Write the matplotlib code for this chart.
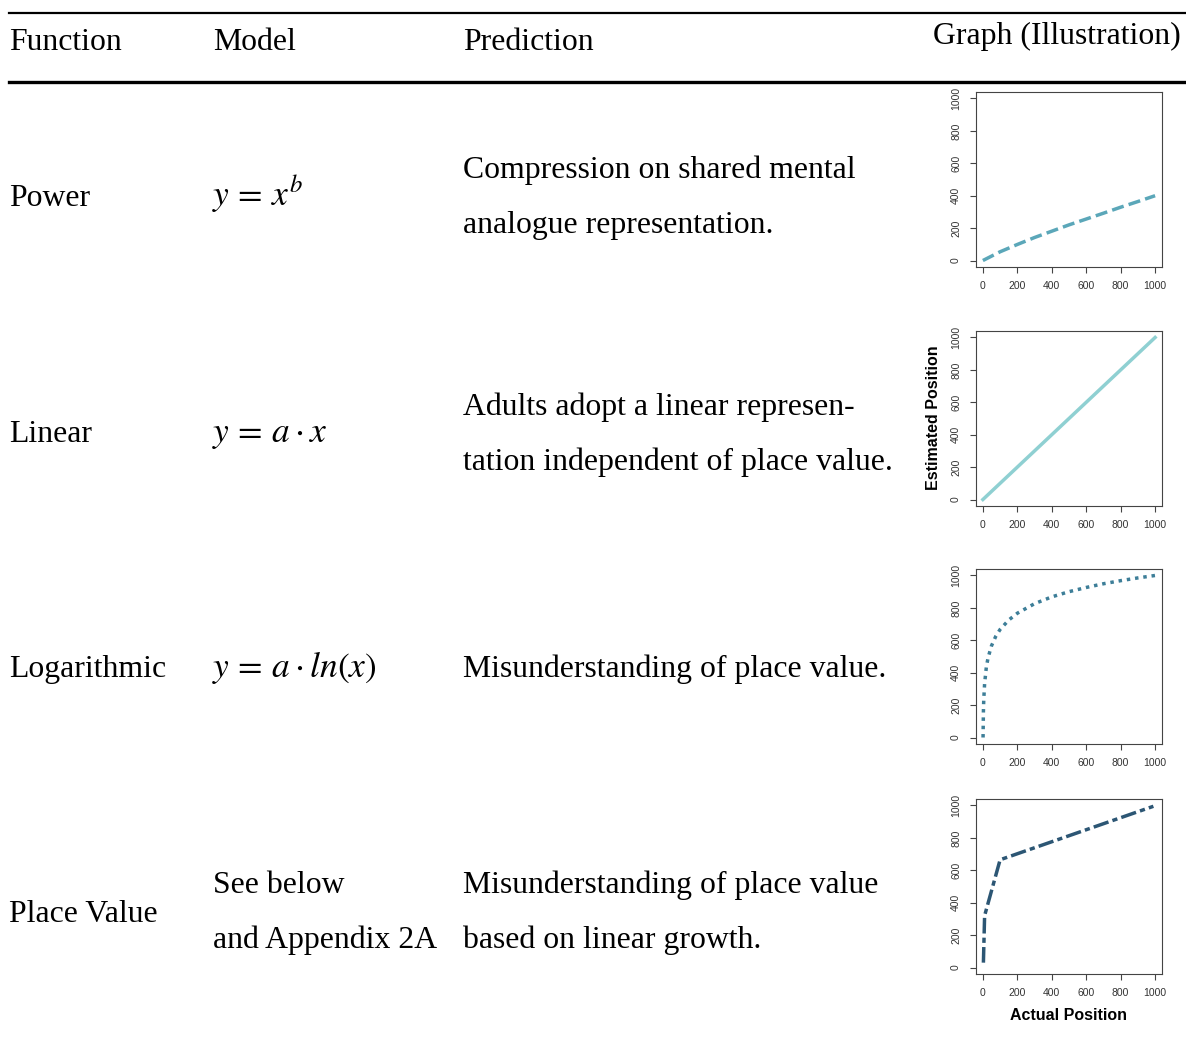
import matplotlib.pyplot as plt

plt.rcParams['mathtext.fontset'] = 'stix'

W, H = 1186, 1041

# table contents
header = ["Function", "Model", "Prediction"]
graph_header = "Graph (Illustration)"
functions = ["Power", "Linear", "Logarithmic", "Place Value"]
models = [r"$y\,=\,x^{b}$", r"$y\,=\,a\cdot x$", r"$y\,=\,a\cdot ln(x)$", "See below\nand Appendix 2A"]
predictions = ["Compression on shared mental\nanalogue representation.",
               "Adults adopt a linear represen-\ntation independent of place value.",
               "Misunderstanding of place value.",
               "Misunderstanding of place value\nbased on linear growth."]

# illustration curves
power_x = [0, 100, 200, 300, 400, 500, 600, 700, 800, 900, 1000]
power_y = [0, 54, 99, 142, 181, 220, 256, 292, 329, 364, 400]
linear_x = [0, 1000]
linear_y = [0, 1000]
log_x = [1, 3, 5, 10, 20, 30, 50, 75, 100, 150, 200, 300, 400, 500, 600, 700, 800, 900, 1000]
log_y = [0, 159, 233, 333, 434, 492, 566, 625, 667, 725, 767, 826, 868, 900, 926, 949, 968, 985, 1000]
place_x = [3, 10, 100, 990]
place_y = [30, 320, 665, 995]

ticks = [0, 200, 400, 600, 800, 1000]
colors = ["#5ba7b9", "#8fd0d2", "#3d7e98", "#2c5674"]


def fx(x):
    return x / W


def fy(y):
    return 1 - y / H


fig = plt.figure(figsize=(W / 100, H / 100), dpi=100)

serif = "Liberation Serif"
fs = 22.9

# rules
fig.add_artist(plt.Line2D([fx(9), fx(1186)], [fy(13), fy(13)], color="black", lw=1.6))
fig.add_artist(plt.Line2D([fx(9), fx(1186)], [fy(82), fy(82)], color="black", lw=2.4))

# header
for txt, x in zip(header, [9, 213, 463]):
    fig.text(fx(x), fy(50), txt, family=serif, fontsize=fs, va="baseline")
fig.text(fx(1181), fy(44), graph_header, family=serif, fontsize=fs, va="baseline", ha="right")

# rows
row_base = [206, 442, 677, 922]
pred_base = [[178, 233], [415, 470], [677], [893, 948]]
for i in range(4):
    fig.text(fx(9), fy(row_base[i]), functions[i], family=serif, fontsize=fs, va="baseline")
    if models[i].startswith("$"):
        fig.text(fx(212), fy(row_base[i]), models[i], fontsize=25.5, va="baseline")
    else:
        for line, b in zip(models[i].split("\n"), pred_base[i]):
            fig.text(fx(213), fy(b), line, family=serif, fontsize=fs, va="baseline")
    for line, b in zip(predictions[i].split("\n"), pred_base[i]):
        fig.text(fx(463), fy(b), line, family=serif, fontsize=fs, va="baseline")

# small graphs
tops = [92, 331, 569, 799]
curves = [(power_x, power_y, (0, (3.5, 1.5))),
          (linear_x, linear_y, "-"),
          (log_x, log_y, (0, (1.0, 1.4))),
          (place_x, place_y, (0, (4.5, 1.2, 1.5, 1.2)))]
left, right, box_h = 976, 1162, 175
for i, (xs, ys, ls) in enumerate(curves):
    ax = fig.add_axes([fx(left), fy(tops[i] + box_h), (right - left) / W, box_h / H])
    ax.plot(xs, ys, color=colors[i], lw=2.5, linestyle=ls, dash_capstyle="butt")
    ax.set_xlim(-40, 1040)
    ax.set_ylim(-40, 1040)
    ax.set_xticks(ticks)
    ax.set_yticks(ticks)
    ax.set_xticklabels([str(t) for t in ticks], family="Liberation Sans", fontsize=7.5, color="#333333")
    ax.set_yticklabels([str(t) for t in ticks], family="Liberation Sans", fontsize=7.5, color="#333333",
                       rotation=90, va="center")
    ax.tick_params(direction="out", length=4.3, width=0.8, color="#444444")
    ax.tick_params(axis="x", pad=5.5)
    ax.tick_params(axis="y", pad=6.5)
    for s in ax.spines.values():
        s.set_color("#444444")
        s.set_linewidth(0.8)

fig.text(fx(933), fy(418), "Estimated Position", family="Liberation Sans", fontweight="bold",
         fontsize=11.5, rotation=90, ha="center", va="center")
fig.text(fx(1069), fy(1015), "Actual Position", family="Liberation Sans", fontweight="bold",
         fontsize=11.5, ha="center", va="center")

fig.savefig("out.png", dpi=100)
